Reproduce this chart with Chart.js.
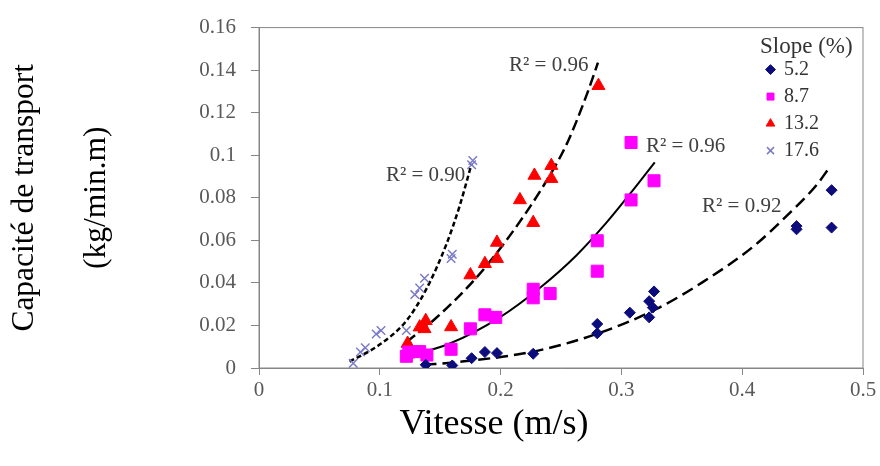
<!DOCTYPE html>
<html>
<head>
<meta charset="utf-8">
<script src="https://cdn.jsdelivr.net/npm/chart.js@4.4.1/dist/chart.umd.min.js"></script>
<style>
    body { margin: 0; background: #fff; }
    #div_chart { width: 880px; height: 466px; }
</style>
</head>
<body>
<div id="div_chart"><canvas id="myChart"></canvas></div>
<script>
// pentes (%)
const pentes = ['5.2', '8.7', '13.2', '17.6'];

// mesures : vitesse (m/s) / capacité de transport (kg/min.m)
const vit52 = [0.138, 0.160, 0.176, 0.187, 0.197, 0.227, 0.280, 0.280, 0.307, 0.323, 0.323, 0.327, 0.326, 0.445, 0.445, 0.474, 0.474];
const cap52 = [0.0015, 0.0012, 0.0046, 0.0075, 0.0070, 0.0067, 0.0207, 0.0163, 0.0260, 0.0238, 0.0314, 0.0360, 0.0284, 0.0667, 0.0652, 0.0660, 0.0836];

const vit87 = [0.122, 0.124, 0.133, 0.139, 0.159, 0.175, 0.187, 0.196, 0.227, 0.227, 0.241, 0.280, 0.280, 0.308, 0.327, 0.308];
const cap87 = [0.0055, 0.0075, 0.0077, 0.0061, 0.0088, 0.0184, 0.0250, 0.0238, 0.0370, 0.0330, 0.0350, 0.0598, 0.0455, 0.0790, 0.0880, 0.1060];

const vit132 = [0.123, 0.133, 0.138, 0.137, 0.159, 0.175, 0.187, 0.197, 0.197, 0.216, 0.227, 0.228, 0.242, 0.242, 0.281];
const cap132 = [0.0115, 0.0192, 0.0222, 0.0184, 0.0193, 0.0437, 0.0490, 0.0590, 0.0514, 0.0790, 0.0683, 0.0905, 0.0951, 0.0890, 0.1327];

const vit176 = [0.078, 0.084, 0.088, 0.097, 0.101, 0.122, 0.129, 0.133, 0.137, 0.159, 0.160, 0.176, 0.177];
const cap176 = [0.0022, 0.0075, 0.0095, 0.0160, 0.0176, 0.0176, 0.0345, 0.0376, 0.0422, 0.0515, 0.0535, 0.0955, 0.0975];

// courbes de tendance
const tend52X = [0.137, 0.1606, 0.2268, 0.282, 0.3317, 0.3676, 0.409, 0.4366, 0.4614, 0.4724];
const tend52Y = [0.0015, 0.0026, 0.0077, 0.0165, 0.0285, 0.0405, 0.0570, 0.0714, 0.0859, 0.0944];

const tend87X = [0.122, 0.158, 0.1993, 0.2324, 0.2627, 0.2876, 0.3096, 0.3276];
const tend87Y = [0.0053, 0.0115, 0.0238, 0.0376, 0.0529, 0.0683, 0.0836, 0.0967];

const tend132X = [0.122, 0.144, 0.180, 0.2075, 0.235, 0.2545, 0.271, 0.2806];
const tend132Y = [0.0122, 0.0222, 0.0425, 0.0621, 0.0852, 0.1050, 0.1280, 0.1435];

const tend176X = [0.075, 0.0999, 0.122, 0.1386, 0.155, 0.166, 0.176];
const tend176Y = [0.0030, 0.0110, 0.0222, 0.0372, 0.0580, 0.0760, 0.0960];

// R² de chaque courbe
const r2Texte = ['R\u00b2 = 0.92', 'R\u00b2 = 0.96', 'R\u00b2 = 0.96', 'R\u00b2 = 0.90'];
const r2X = [0.3996, 0.3532, 0.2398, 0.1379];
const r2Y = [0.0760, 0.1042, 0.1420, 0.0905];

// graduations
const xTickLabels = ['0', '0.1', '0.2', '0.3', '0.4', '0.5'];
const yTickLabels = ['0', '0.02', '0.04', '0.06', '0.08', '0.1', '0.12', '0.14', '0.16'];

const police = 'Liberation Serif';

function points(xs, ys) {
    return xs.map((v, i) => ({ x: v, y: ys[i] }));
}

function serieMesure(label, xs, ys, style, couleur, rayon) {
    return {
        label: label,
        data: points(xs, ys),
        pointStyle: style,
        backgroundColor: couleur,
        borderColor: couleur,
        pointRadius: rayon,
        pointBorderWidth: style === 'crossRot' ? 1.5 : 1,
        showLine: false,
        order: 1
    };
}

function serieTendance(xs, ys, dash, epaisseur) {
    return {
        label: '',
        data: points(xs, ys),
        showLine: true,
        borderColor: '#000000',
        borderWidth: epaisseur,
        borderDash: dash,
        pointRadius: 0,
        cubicInterpolationMode: 'monotone',
        order: 2
    };
}

// cadre du graphique + textes R² + titre de l'axe x
const ecritures = {
    id: 'ecritures',
    beforeDatasetsDraw(chart) {
        const a = chart.chartArea;
        const ctx = chart.ctx;
        ctx.save();
        ctx.strokeStyle = '#868686';
        ctx.lineWidth = 1;
        ctx.strokeRect(a.left, a.top, a.right - a.left, a.bottom - a.top);
        ctx.restore();
    },
    afterDraw(chart) {
        const ctx = chart.ctx;
        const sx = chart.scales.x;
        const sy = chart.scales.y;
        ctx.save();
        ctx.font = '21px "' + police + '"';
        ctx.fillStyle = '#404040';
        ctx.textAlign = 'center';
        ctx.textBaseline = 'middle';
        r2Texte.forEach((t, i) => {
            ctx.fillText(t, sx.getPixelForValue(r2X[i]), sy.getPixelForValue(r2Y[i]));
        });
        ctx.font = '36px "' + police + '"';
        ctx.fillStyle = '#000000';
        ctx.fillText('Vitesse (m/s)', chart.chartArea.left + 235, chart.height - 41);
        ctx.restore();
    }
};

// légende dans le coin haut droit du graphique
const placeLegende = {
    id: 'placeLegende',
    afterLayout(chart) {
        const lg = chart.legend;
        const a = chart.chartArea;
        lg.left = a.right - 103;
        lg.right = a.right;
        lg.width = lg.right - lg.left;
        lg.top = a.top + 8;
        lg.bottom = a.bottom;
    }
};

const data = {
    datasets: [
        serieMesure(pentes[0], vit52, cap52, 'rectRot', '#0c0c7c', 5.5),
        serieMesure(pentes[1], vit87, cap87, 'rect', '#ff00ff', 8.5),
        serieMesure(pentes[2], vit132, cap132, 'triangle', '#ff0000', 7.5),
        serieMesure(pentes[3], vit176, cap176, 'crossRot', '#7b7bc8', 6),
        serieTendance(tend52X, tend52Y, [12, 6], 2.5),
        serieTendance(tend87X, tend87Y, [], 2),
        serieTendance(tend132X, tend132Y, [11, 5], 2.5),
        serieTendance(tend176X, tend176Y, [5, 3], 2.5)
    ]
};

const config = {
    type: 'scatter',
    data: data,
    plugins: [ecritures, placeLegende],
    options: {
        responsive: true,
        maintainAspectRatio: false,
        animation: false,
        layout: {
            padding: { top: 20.7, right: 17, bottom: 0, left: 0 }
        },
        plugins: {
            tooltip: { enabled: false },
            legend: {
                position: 'chartArea',
                align: 'start',
                title: {
                    display: true,
                    text: 'Slope (%)',
                    position: 'start',
                    color: '#333333',
                    font: { family: police, size: 23, lineHeight: 1 },
                    padding: { top: 0, bottom: -6 }
                },
                labels: {
                    filter: (item) => item.datasetIndex < 4,
                    usePointStyle: true,
                    boxWidth: 7,
                    boxHeight: 7,
                    padding: 7,
                    color: '#333333',
                    font: { family: police, size: 20 }
                }
            }
        },
        scales: {
            x: {
                type: 'linear',
                min: 0,
                max: 0.5,
                ticks: {
                    stepSize: 0.1,
                    color: '#595959',
                    padding: 3,
                    font: { family: police, size: 21 },
                    callback: (value, index) => xTickLabels[index]
                },
                grid: {
                    drawOnChartArea: false,
                    drawTicks: true,
                    tickLength: 7,
                    color: '#868686'
                },
                border: { color: '#868686', width: 1 },
                afterFit: (s) => { s.height = 98; }
            },
            y: {
                type: 'linear',
                min: 0,
                max: 0.16,
                ticks: {
                    stepSize: 0.02,
                    color: '#595959',
                    padding: 15,
                    font: { family: police, size: 21 },
                    callback: (value, index) => yTickLabels[index]
                },
                grid: {
                    drawOnChartArea: false,
                    drawTicks: true,
                    tickLength: 8,
                    color: '#868686'
                },
                border: { color: '#868686', width: 1 },
                title: {
                    display: true,
                    text: ['Capacité de transport', '(kg/min.m)'],
                    color: '#000000',
                    font: { family: police, size: 31.5, lineHeight: 2.286 },
                    padding: { top: -11, bottom: 0 }
                },
                afterFit: (s) => { s.width = 259; }
            }
        }
    }
};

const myChart = new Chart(
    document.getElementById('myChart'),
    config
);
</script>
</body>
</html>
